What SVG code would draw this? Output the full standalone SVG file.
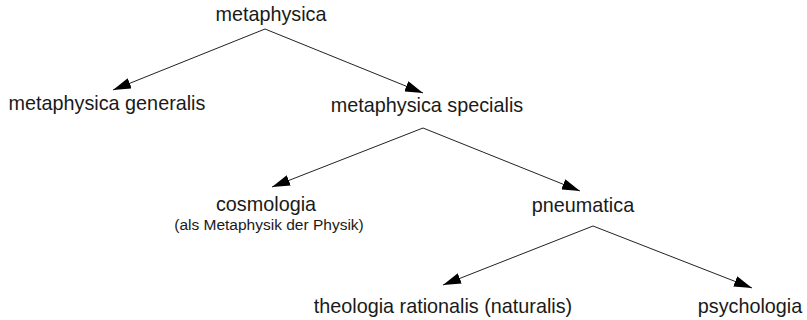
<svg xmlns="http://www.w3.org/2000/svg" width="807" height="320" viewBox="0 0 807 320">
<defs>
<marker id="ah" viewBox="0 0 18 11" refX="18" refY="5.5" markerWidth="18" markerHeight="11" markerUnits="userSpaceOnUse" orient="auto">
<path d="M0,0 L18,5.5 L0,11 Z" fill="#000"/>
</marker>
<style>
text{font-family:"Liberation Sans",Arial,sans-serif;fill:#1a1a1a;text-anchor:middle;font-size:19.8px}
.small{font-size:15.5px}
.c{stroke:#222;stroke-width:1;fill:none;marker-end:url(#ah)}
</style>
</defs>
<rect width="807" height="320" fill="#fff"/>
<g id="connectors">
<line class="c" x1="265" y1="29" x2="113" y2="90"/>
<line class="c" x1="265" y1="29" x2="423" y2="93"/>
<line class="c" x1="423" y1="128" x2="272" y2="187"/>
<line class="c" x1="423" y1="128" x2="580" y2="191"/>
<line class="c" x1="593" y1="226" x2="443" y2="285"/>
<line class="c" x1="593" y1="226" x2="752" y2="288"/>
</g>
<g id="metaphysica"><text x="271" y="21">metaphysica</text></g>
<g id="generalis"><text x="107" y="110">metaphysica generalis</text></g>
<g id="specialis"><text x="427" y="112">metaphysica specialis</text></g>
<g id="cosmologia"><text x="266" y="211">cosmologia</text><text class="small" x="269" y="230">(als Metaphysik der Physik)</text></g>
<g id="pneumatica"><text x="583" y="212">pneumatica</text></g>
<g id="theologia"><text x="443" y="313">theologia rationalis (naturalis)</text></g>
<g id="psychologia"><text x="750" y="313">psychologia</text></g>
</svg>
